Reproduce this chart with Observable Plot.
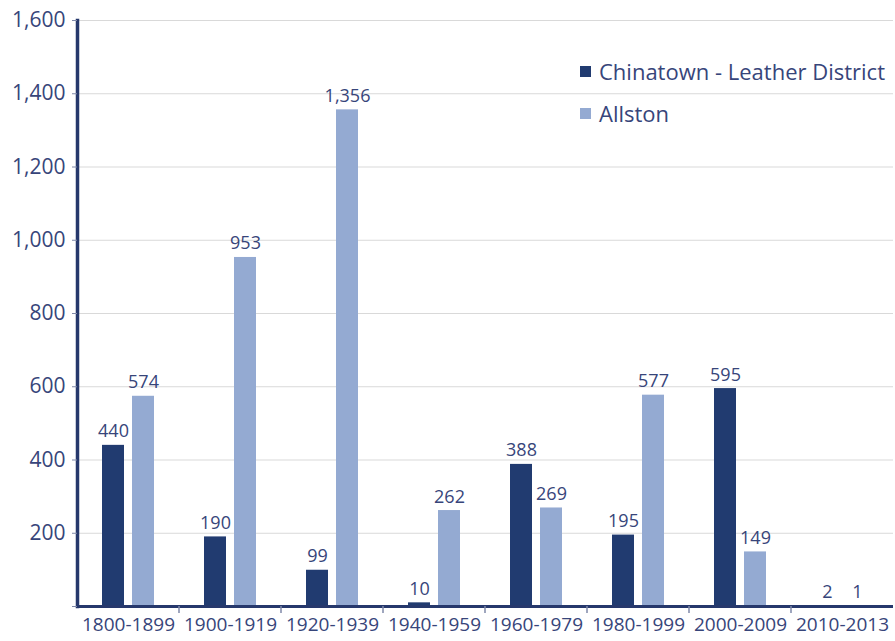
<!DOCTYPE html>
<html>
<head>
<meta charset="utf-8">
<script src="https://cdn.jsdelivr.net/npm/d3@7"></script>
<script src="https://cdn.jsdelivr.net/npm/@observablehq/plot@0.6"></script>
<style>
  html, body { margin: 0; padding: 0; background: #fff; }
  #wrap { position: relative; width: 895px; height: 641px; overflow: hidden; font-family: "Open Sans", sans-serif; }
  .legend { position: absolute; left: 580px; top: 50px; color: #37457a; font-size: 22px; }
  .legend .item { display: flex; align-items: center; height: 42px; }
  .legend .sw { width: 11px; height: 11px; margin-right: 8px; }
</style>
</head>
<body>
<div id="wrap"></div>
<script>
const categories = ["1800-1899","1900-1919","1920-1939","1940-1959","1960-1979","1980-1999","2000-2009","2010-2013"];
const seriesNames = ["Chinatown - Leather District","Allston"];
const chinatown = [440,190,99,10,388,195,595,2];
const allston = [574,953,1356,262,269,577,149,1];
const colors = ["#213b70","#94aad2"];
const yTicks = [0,200,400,600,800,1000,1200,1400,1600];

const textColor = "#37457a";
const axisColor = "#26386c";

const data = [];
categories.forEach((c, i) => {
  data.push({category: c, series: seriesNames[0], value: chinatown[i]});
  data.push({category: c, series: seriesNames[1], value: allston[i]});
});

const fmt = d3.format(",");

const chart = Plot.plot({
  width: 895,
  height: 641,
  marginLeft: 74,
  marginRight: 0,
  marginTop: 20,
  marginBottom: 35,
  style: {fontFamily: "Open Sans, sans-serif", color: textColor, background: "white"},
  fx: {domain: categories, padding: 0, label: null},
  x: {domain: seriesNames, paddingInner: 0.27, paddingOuter: 0.83, axis: null},
  y: {domain: [0, 1600], label: null},
  color: {domain: seriesNames, range: colors},
  marks: [
    Plot.gridY(yTicks.slice(1), {stroke: "#d9d9d9", strokeOpacity: 1, strokeWidth: 1.2}),
    Plot.barY(data, {fx: "category", x: "series", y: "value", fill: "series"}),
    Plot.text(data, {fx: "category", x: "series", y: "value", text: d => fmt(d.value), dy: -8, lineAnchor: "bottom", fontSize: 18, fill: textColor}),
    Plot.ruleY([0], {stroke: axisColor, strokeWidth: 3}),
    Plot.frame({anchor: "left", facetAnchor: "left", stroke: axisColor, strokeWidth: 3.5}),
    Plot.axisY({ticks: yTicks, tickFormat: d => d === 0 ? "" : fmt(d), tickSize: 5, tickPadding: 7, fontSize: 21, label: null, stroke: "#7f88a8", fill: textColor}),
    Plot.axisFx({anchor: "bottom", tickSize: 0, tickPadding: 11, fontSize: 19, label: null, fill: textColor})
  ]
});

// category boundary ticks below the baseline, positioned from the library's scales
const fx = chart.scale("fx");
const ys = chart.scale("y");
const y0 = ys.apply(0);
const svg = d3.select(chart);
categories.forEach((c, i) => {
  if (i === 0) return;
  const xpos = fx.apply(c);
  svg.append("line")
    .attr("x1", xpos).attr("x2", xpos)
    .attr("y1", y0).attr("y2", y0 + 7)
    .attr("stroke", "#7f88a8").attr("stroke-width", 1.5);
});

const wrap = document.getElementById("wrap");
wrap.appendChild(chart);

const legend = document.createElement("div");
legend.className = "legend";
seriesNames.forEach((s, i) => {
  const item = document.createElement("div");
  item.className = "item";
  const sw = document.createElement("span");
  sw.className = "sw";
  sw.style.background = colors[i];
  const lab = document.createElement("span");
  lab.textContent = s;
  item.appendChild(sw);
  item.appendChild(lab);
  legend.appendChild(item);
});
wrap.appendChild(legend);
</script>
</body>
</html>
